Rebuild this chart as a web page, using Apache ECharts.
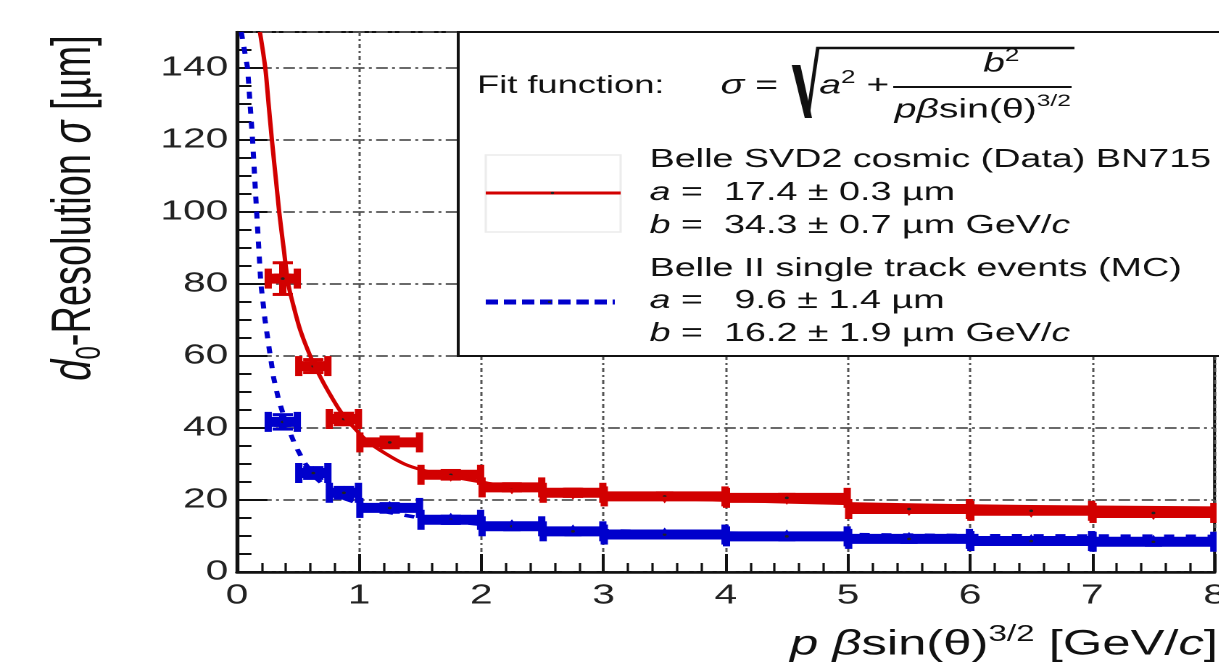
<!DOCTYPE html>
<html>
<head>
<meta charset="utf-8">
<script src="https://cdn.jsdelivr.net/npm/echarts@6/dist/echarts.min.js"></script>
<style>
  html, body { margin: 0; padding: 0; overflow: hidden; background: #fff; }
  /* the original figure is stretched sideways, so draw narrow and widen it */
  #main { width: 841px; height: 664px; transform: scaleX(1.45); transform-origin: 0 0; }
</style>
</head>
<body>
<div id="main"></div>
<script type="text/javascript">
    var FONT = '"Liberation Sans", Arial, sans-serif';
    var RED = '#d20000';
    var BLUE = '#0000cc';

    // bins in p*beta*sin(theta)^(3/2) [GeV/c]
    var binLow  = [0.25, 0.5, 0.75, 1.0, 1.5, 2.0, 2.5, 3, 4, 5, 6, 7];
    var binHigh = [0.5, 0.75, 1.0, 1.5, 2.0, 2.5, 3, 4, 5, 6, 7, 8];
    var binMid  = [0.375, 0.625, 0.875, 1.25, 1.75, 2.25, 2.75, 3.5, 4.5, 5.5, 6.5, 7.5];

    // Belle SVD2 cosmic data
    var svdRes = [81.5, 57.2, 42.5, 36.0, 27.0, 23.5, 22.0, 21.0, 20.6, 17.5, 17.0, 16.4];
    var svdErr = [4.4, 1.8, 1.6, 1.5, 1.2, 1.0, 1.0, 0.8, 0.8, 0.8, 0.7, 0.7];
    // Belle II single track MC
    var mcRes = [41.7, 27.5, 22.0, 17.8, 14.5, 12.7, 11.3, 10.4, 9.9, 9.2, 8.6, 8.4];
    var mcErr = [2.0, 1.5, 1.5, 1.2, 1.0, 0.8, 0.8, 0.7, 0.7, 0.7, 0.7, 0.7];

    // fit curves
    var svdFitX = [0.188, 0.232, 0.259, 0.286, 0.316, 0.346, 0.382, 0.42, 0.47, 0.52, 0.6, 0.67, 0.75, 0.85, 0.96,
                   1.08, 1.22, 1.37, 1.52, 1.75, 2.0, 2.25, 2.5, 3, 3.5, 4, 5, 6, 7, 8];
    var svdFitY = [150, 140, 130, 120, 110, 100, 90, 80, 73, 67, 60, 55, 50, 44.5, 40,
                   36, 32.8, 30.0, 28.3, 26.5, 25.0, 23.6, 22.7, 21.4, 20.5, 19.9, 19.0, 18.4, 18.05, 17.8];
    var mcFitX = [0.035, 0.087, 0.128, 0.161, 0.196, 0.23, 0.264, 0.3, 0.34, 0.4, 0.48, 0.55, 0.65, 0.75, 0.87,
                  1.0, 1.25, 1.5, 2, 2.5, 3, 4, 5, 6, 7, 8];
    var mcFitY = [150, 140, 120, 100, 80, 70, 62, 54, 48, 41.5, 35, 30.5, 26, 23, 20.5,
                  19, 16.5, 15, 13.2, 12.2, 11.5, 10.8, 10.4, 10.1, 10.0, 9.9];

    function zip(xs, ys) { return xs.map(function (x, i) { return [x, ys[i]]; }); }
    function bins(vals, errs) {
        return binLow.map(function (lo, i) { return [lo, binHigh[i], binMid[i], vals[i], errs[i]]; });
    }

    // ROOT style point: bin-wide bar with end caps, y error bar, triangle marker
    function binItem(color, up) {
        return function (params, api) {
            var lo = api.coord([api.value(0), api.value(3)]);
            var hi = api.coord([api.value(1), api.value(3)]);
            var c = api.coord([api.value(2), api.value(3)]);
            var t = api.coord([api.value(2), api.value(3) + api.value(4)]);
            var b = api.coord([api.value(2), api.value(3) - api.value(4)]);
            var tri = up
                ? [[c[0] - 6, c[1] + 5], [c[0] + 6, c[1] + 5], [c[0], c[1] - 7]]
                : [[c[0] - 6, c[1] - 5], [c[0] + 6, c[1] - 5], [c[0], c[1] + 7]];
            return {
                type: 'group',
                children: [
                    { type: 'line', shape: { x1: lo[0], y1: lo[1], x2: hi[0], y2: hi[1] }, style: { stroke: color, lineWidth: 10 } },
                    { type: 'rect', shape: { x: lo[0] - 2, y: lo[1] - 10, width: 5, height: 20 }, style: { fill: color } },
                    { type: 'rect', shape: { x: hi[0] - 3, y: hi[1] - 10, width: 5, height: 20 }, style: { fill: color } },
                    { type: 'line', shape: { x1: c[0], y1: t[1], x2: c[0], y2: b[1] }, style: { stroke: color, lineWidth: 5 } },
                    { type: 'line', shape: { x1: c[0] - 7, y1: t[1], x2: c[0] + 7, y2: t[1] }, style: { stroke: color, lineWidth: 3 } },
                    { type: 'line', shape: { x1: c[0] - 7, y1: b[1], x2: c[0] + 7, y2: b[1] }, style: { stroke: color, lineWidth: 3 } },
                    { type: 'polygon', shape: { points: tri }, style: { fill: color } },
                    { type: 'circle', shape: { cx: c[0], cy: c[1], r: 1.3 }, style: { fill: '#222' } }
                ]
            };
        };
    }

    function txt(x, y, text, size, rich, align, rotation) {
        return {
            type: 'text', x: x, y: y, z: 52, rotation: rotation || 0,
            style: {
                text: text, fontSize: size, fontFamily: FONT, fill: '#111',
                align: align || 'left', textAlign: align || 'left',
                verticalAlign: 'middle', textVerticalAlign: 'middle',
                rich: rich || {}
            }
        };
    }

    function richSet(size, lh, supSize) {
        return {
            n: { fontSize: size, lineHeight: lh, fontFamily: FONT },
            i: { fontSize: size, lineHeight: lh, fontFamily: FONT, fontStyle: 'italic' },
            sup: { fontSize: supSize, lineHeight: supSize, fontFamily: FONT, verticalAlign: 'top' },
            sub: { fontSize: supSize, lineHeight: supSize, fontFamily: FONT, verticalAlign: 'bottom' }
        };
    }

    var myChart = echarts.init(document.getElementById('main'), null, { devicePixelRatio: 2 });

    var option = {
        animation: false,
        backgroundColor: '#fff',
        grid: {
            left: 163.4, right: 3.4, top: 32, bottom: 92,
            containLabel: false, outerBoundsMode: 'none',
            show: true, borderColor: '#111', borderWidth: 2, backgroundColor: 'transparent'
        },
        xAxis: {
            type: 'value', min: 0, max: 8, interval: 1,
            axisLine: { show: true, onZero: false, lineStyle: { color: '#111', width: 2.5 } },
            axisTick: { inside: true, length: 18, lineStyle: { color: '#111', width: 2 } },
            minorTick: { show: true, splitNumber: 5, length: 9, lineStyle: { color: '#111', width: 1.6 } },
            axisLabel: { fontSize: 28, fontFamily: FONT, color: '#222', margin: 10 },
            splitLine: { show: true, lineStyle: { color: '#555', width: 1.5, type: [4, 3, 2, 3] } }
        },
        yAxis: [{
            type: 'value', min: 0, max: 150, interval: 20,
            axisLine: { show: true, onZero: false, lineStyle: { color: '#111', width: 2.2 } },
            axisTick: { inside: true, length: 21, lineStyle: { color: '#111', width: 2 } },
            axisLabel: { fontSize: 28, fontFamily: FONT, color: '#222', margin: 6, showMaxLabel: false },
            splitLine: { show: true, lineStyle: { color: '#555', width: 1.8, type: [8, 3, 2, 3] } }
        }, {
            type: 'value', min: 0, max: 150, interval: 5, position: 'left',
            axisLine: { show: false },
            axisTick: { inside: true, length: 10, lineStyle: { color: '#111', width: 2 } },
            axisLabel: { show: false },
            splitLine: { show: false }
        }],
        series: [
            {
                name: 'svd', type: 'custom', renderItem: binItem(RED, false), z: 2, clip: true,
                data: bins(svdRes, svdErr), encode: { x: [0, 1, 2], y: 3 }
            },
            {
                name: 'mc', type: 'custom', renderItem: binItem(BLUE, true), z: 2, clip: true,
                data: bins(mcRes, mcErr), encode: { x: [0, 1, 2], y: 3 }
            },
            {
                name: 'svdFit', type: 'line', showSymbol: false, smooth: 0.3, z: 3, clip: true,
                data: zip(svdFitX, svdFitY), lineStyle: { color: RED, width: 3, join: 'round' }
            },
            {
                name: 'mcFit', type: 'line', showSymbol: false, smooth: false, z: 3, clip: true,
                data: zip(mcFitX, mcFitY), lineStyle: { color: BLUE, width: 3.5, type: [7, 8] }
            }
        ],
        graphic: [
            // legend box
            { type: 'rect', z: 50, shape: { x: 316, y: 32, width: 600, height: 324 }, style: { fill: '#fff', stroke: '#111', lineWidth: 2 } },
            txt(329, 86, 'Fit function:', 25),
            txt(497, 86, '{i|σ}{n| =}', 27, richSet(27, 34, 18)),
            { type: 'polygon', z: 52, shape: { points: [[546, 65], [552, 65], [560, 118], [555, 118]] }, style: { fill: '#111' } },
            { type: 'polyline', z: 52, shape: { points: [[557, 117], [564, 48], [741, 48]] }, style: { stroke: '#111', lineWidth: 2.5, fill: null } },
            txt(565, 86, '{i|a}{sup|2}{n| +}', 27, richSet(27, 34, 18)),
            { type: 'line', z: 52, shape: { x1: 616, y1: 87, x2: 739, y2: 87 }, style: { stroke: '#111', lineWidth: 2 } },
            txt(678, 64, '{i|b}{sup|2}', 27, richSet(27, 34, 18)),
            txt(617, 110, '{i|p}{i|β}{n|sin(θ)}{sup|3/2}', 27, richSet(27, 34, 17)),
            // legend samples
            { type: 'rect', z: 51, shape: { x: 335, y: 155, width: 93, height: 77 }, style: { fill: null, stroke: '#ececec', lineWidth: 1.5 } },
            { type: 'line', z: 52, shape: { x1: 335, y1: 193, x2: 428, y2: 193 }, style: { stroke: RED, lineWidth: 3 } },
            { type: 'circle', z: 53, shape: { cx: 381, cy: 193, r: 1.2 }, style: { fill: '#222' } },
            { type: 'line', z: 52, shape: { x1: 335, y1: 302, x2: 424, y2: 302 }, style: { stroke: BLUE, lineWidth: 5, lineDash: [8.5, 4] } },
            { type: 'circle', z: 53, shape: { cx: 379, cy: 302, r: 1.2 }, style: { fill: '#222' } },
            txt(448, 160, 'Belle SVD2 cosmic (Data) BN715', 26),
            txt(448, 193, '{i|a}{n| =  17.4 ± 0.3 µm}', 26, richSet(26, 30, 17)),
            txt(448, 226, '{i|b}{n| =  34.3 ± 0.7 µm GeV/}{i|c}', 26, richSet(26, 30, 17)),
            txt(448, 269, 'Belle II single track events (MC)', 26),
            txt(448, 301, '{i|a}{n| =   9.6 ± 1.4 µm}', 26, richSet(26, 30, 17)),
            txt(448, 334, '{i|b}{n| =  16.2 ± 1.9 µm GeV/}{i|c}', 26, richSet(26, 30, 17)),
            // axis titles
            txt(840, 645, '{i|p }{i|β}{n|sin(θ)}{sup|3/2}{n| [GeV/}{i|c}{n|]}', 35, richSet(35, 44, 23), 'right'),
            txt(51.5, 208, '{i|d}{sub|0}{n|-Resolution }{i|σ}{n| [µm]}', 38, richSet(38, 46, 24), 'center', Math.PI / 2)
        ]
    };

    myChart.setOption(option);
</script>
</body>
</html>
